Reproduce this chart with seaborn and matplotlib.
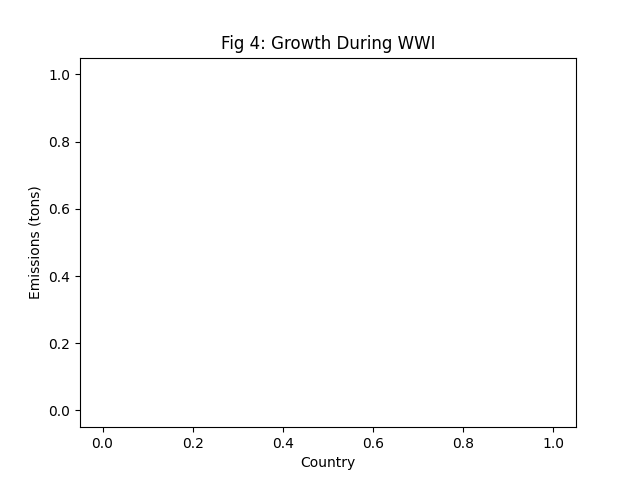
import numpy as np
import pandas as pd
import seaborn as sns
from matplotlib import pyplot as plt

# the reference chart holds no data: empty series
countries = []
emissions = []

df = pd.DataFrame({'Country': pd.Series(countries, dtype=float),
                   'Emissions (tons)': pd.Series(emissions, dtype=float)})

fig, ax = plt.subplots(figsize=(6.4, 4.8), dpi=100)
sns.lineplot(data=df, x='Country', y='Emissions (tons)', ax=ax)
ax.set_xlim(-0.05, 1.05)
ax.set_ylim(-0.05, 1.05)
ax.set_xlabel('Country')
ax.set_ylabel('Emissions (tons)')
ax.set_title('Fig 4: Growth During WWI')
fig.savefig('out.png', dpi=100)
